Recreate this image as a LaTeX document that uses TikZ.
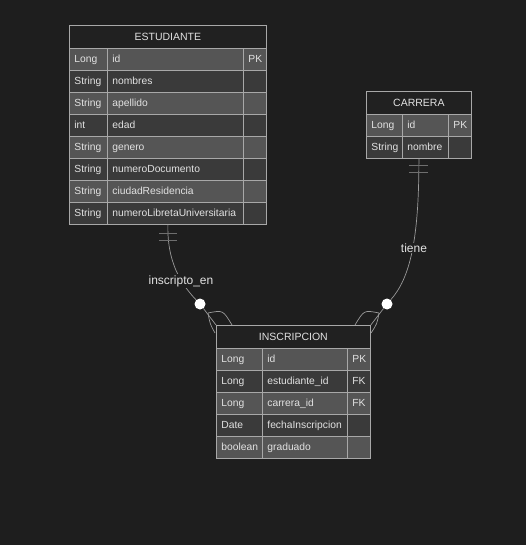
\documentclass[tikz,border=0pt]{standalone}
\usepackage{fontspec}
\setmainfont{Liberation Sans}
\usetikzlibrary{positioning}
\definecolor{bg}{HTML}{1E1E1E}
\definecolor{hdrfill}{HTML}{212121}
\definecolor{rowA}{HTML}{555555}
\definecolor{rowB}{HTML}{3A3A3A}
\definecolor{tblline}{HTML}{A8A8A8}
\definecolor{relline}{HTML}{9A9A9A}
\definecolor{barline}{HTML}{6E6E6E}
\definecolor{txt}{HTML}{E2E2E2}
\begin{document}
\begin{tikzpicture}[x=1pt,y=-1pt,
	cell/.style={draw=tblline,line width=0.8pt,minimum height=22pt,inner xsep=5pt,inner ysep=0pt,text height=7.5pt,text depth=2.2pt,anchor=north west,text=txt,font=\fontsize{10.3}{11}\selectfont,align=left},
	keycell/.style={cell,text width=13pt,align=center},
	hdr/.style={draw=tblline,line width=0.8pt,fill=hdrfill,minimum height=23pt,inner sep=0pt,anchor=north west,text=txt,font=\fontsize{10.5}{12}\selectfont},
	rel/.style={draw=relline,line width=0.7pt},
	bar/.style={draw=barline,line width=1pt},
	dot/.style={circle,fill=white,inner sep=0pt,minimum size=11pt},
	lbl/.style={fill=bg,text=txt,inner sep=1pt,font=\fontsize{12}{13}\selectfont}]
	\fill[bg] (0,0) rectangle (526,545);
	\useasboundingbox (0,0) rectangle (526,545);
	\node[hdr,minimum width=197pt] (est-h) at (69,25) {ESTUDIANTE};
	\foreach \ty/\nm/\ky/\fl [count=\i from 0] in {Long/id/PK/rowA,String/nombres/{}/rowB,String/apellido/{}/rowA,int/edad/{}/rowB,String/genero/{}/rowA,String/numeroDocumento/{}/rowB,String/ciudadResidencia/{}/rowA,String/numeroLibretaUniversitaria/{}/rowB}{
		\node[cell,fill=\fl,text width=28pt] (est-t\i) at (69,{48+22*\i}) {\ty};
		\node[cell,fill=\fl,text width=126pt] (est-n\i) at (107,{48+22*\i}) {\nm};
		\node[keycell,fill=\fl] (est-k\i) at (243,{48+22*\i}) {\ky};
	}
	\node[hdr,minimum width=105pt] (car-h) at (366,91) {CARRERA};
	\foreach \ty/\nm/\ky/\fl [count=\i from 0] in {Long/id/PK/rowA,String/nombre/{}/rowB}{
		\node[cell,fill=\fl,text width=26pt] (car-t\i) at (366,{114+22*\i}) {\ty};
		\node[cell,fill=\fl,text width=36pt] (car-n\i) at (402,{114+22*\i}) {\nm};
		\node[keycell,fill=\fl] (car-k\i) at (448,{114+22*\i}) {\ky};
	}
	\node[hdr,minimum width=154pt] (ins-h) at (216,325) {INSCRIPCION};
	\foreach \ty/\nm/\ky/\fl [count=\i from 0] in {Long/id/PK/rowA,Long/estudiante\_id/FK/rowB,Long/carrera\_id/FK/rowA,Date/fechaInscripcion/{}/rowB,boolean/graduado/{}/rowA}{
		\node[cell,fill=\fl,text width=36pt] (ins-t\i) at (216,{348+22*\i}) {\ty};
		\node[cell,fill=\fl,text width=75pt] (ins-n\i) at (262,{348+22*\i}) {\nm};
		\node[keycell,fill=\fl] (ins-k\i) at (347,{348+22*\i}) {\ky};
	}
	\node[dot] (o1) at (200,304) {};
	\node[dot] (o2) at (387,304) {};
	\coordinate (f1) at (208,313);
	\coordinate (f2) at (379,313);
	\draw[rel] (est-h |- est-t7.south) .. controls (167,262) and (181,284) .. (o1);
	\draw[rel] (o1) -- (ins-h.north west);
	\draw[rel] (f1) .. controls (210,324) .. (215,333);
	\draw[rel] (f1) .. controls (223,310) .. (232,325);
	\draw[rel] (car-h |- car-t1.south) .. controls (419,240) and (410,278) .. (o2);
	\draw[rel] (o2) -- (ins-h.north east);
	\draw[rel] (f2) .. controls (377,324) .. (371,333);
	\draw[rel] (f2) .. controls (364,310) .. (355,325);
	\draw[bar] (159,233) -- (177,233);
	\draw[bar] (159,240) -- (177,240);
	\draw[bar] (409,166) -- (428,166);
	\draw[bar] (409,173) -- (428,173);
	\node[lbl] (l1) at (181,281) {inscripto\_en};
	\node[lbl] (l2) at (414,248) {tiene};
\end{tikzpicture}
\end{document}
